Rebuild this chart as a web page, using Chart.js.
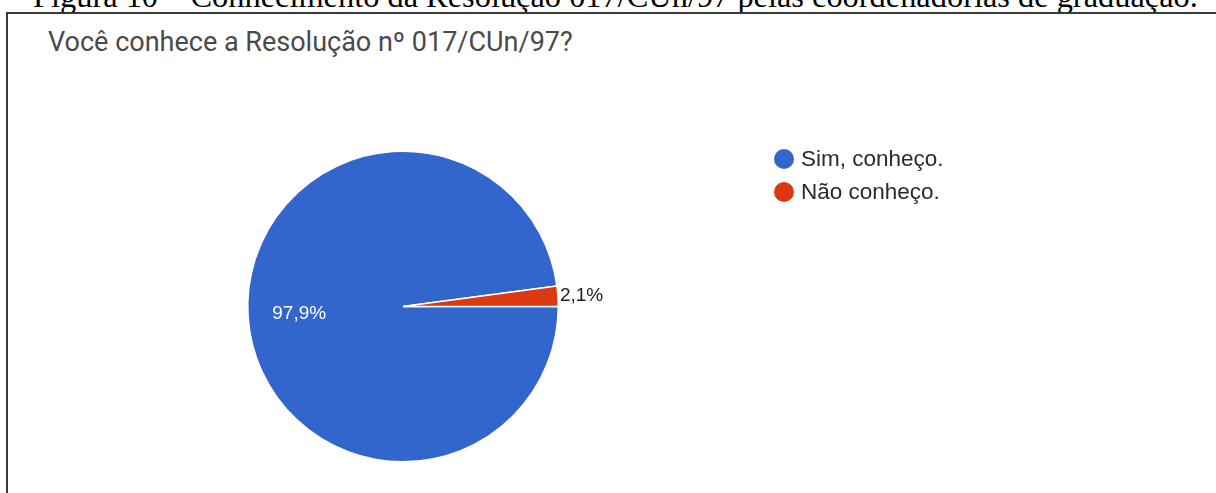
<!DOCTYPE html>
<html lang="pt-BR">
<head>
<meta charset="utf-8">
<title>Resolução nº 017/CUn/97</title>
<script src="https://cdn.jsdelivr.net/npm/chart.js@4/dist/chart.umd.min.js"></script>
<style>
  html, body { margin: 0; padding: 0; background: #fff; overflow: hidden; }
  body { width: 1216px; height: 493px; position: relative; }
  #caption {
    position: absolute; left: 33px; top: -20px;
    font-family: "Liberation Serif", "Times New Roman", serif;
    font-size: 32.4px; line-height: 32px; color: #000; white-space: nowrap;
  }
  #frame {
    position: absolute; left: 6px; top: 12px; width: 1300px; height: 600px;
    border-left: 2px solid #3a3a3a; border-top: 2px solid #3a3a3a;
    background: #fff;
  }
  #title {
    position: absolute; left: 48px; top: 26px;
    font-family: Roboto, "Open Sans", sans-serif; font-size: 27px; line-height: 32px;
    color: #4a4a4a; white-space: nowrap;
  }
  #wrap { position: absolute; left: 0; top: 0; width: 1216px; height: 493px; }
</style>
</head>
<body>
<div id="caption">Figura 10 – Conhecimento da Resolução 017/CUn/97 pelas coordenadorias de graduação.</div>
<div id="frame"></div>
<div id="title">Você conhece a Resolução nº 017/CUn/97?</div>
<div id="wrap"><canvas id="chart" width="1216" height="493"></canvas></div>
<script>
// Answers and their shares (percent)
const categories = ["Sim, conheço.", "Não conheço."];
const shares = [97.9, 2.1];
const sliceColors = ["#3366cc", "#dc3912"];

const fmtPct = v => v.toFixed(1).replace(".", ",") + "%";

// Percent labels on (or beside) each slice
const sliceLabels = {
  id: "sliceLabels",
  afterDatasetsDraw(chart) {
    const ctx = chart.ctx;
    const meta = chart.getDatasetMeta(0);
    const data = chart.data.datasets[0].data;
    const total = data.reduce((a, b) => a + b, 0);
    ctx.save();
    ctx.font = "19px Arial, 'Liberation Sans', sans-serif";
    ctx.textBaseline = "middle";
    meta.data.forEach((arc, i) => {
      const p = arc.getProps(["x", "y", "startAngle", "endAngle", "outerRadius"], true);
      const mid = (p.startAngle + p.endAngle) / 2;
      const share = data[i] / total;
      const txt = fmtPct(data[i]);
      if (share >= 0.05) {
        const r = p.outerRadius * 0.67;
        ctx.fillStyle = "#ffffff";
        ctx.textAlign = "center";
        ctx.fillText(txt, p.x + Math.cos(mid) * r, p.y + Math.sin(mid) * r);
      } else {
        const r = p.outerRadius + 2;
        ctx.fillStyle = "#222222";
        ctx.textAlign = "left";
        ctx.fillText(txt, p.x + Math.cos(mid) * r, p.y + Math.sin(mid) * r);
      }
    });
    ctx.restore();
  }
};

// Legend with round markers to the right of the pie
const sideLegend = {
  id: "sideLegend",
  afterDraw(chart) {
    const ctx = chart.ctx;
    const ds = chart.data.datasets[0];
    ctx.save();
    ctx.font = "22.5px Arial, 'Liberation Sans', sans-serif";
    ctx.textBaseline = "middle";
    ctx.textAlign = "left";
    chart.data.labels.forEach((lab, i) => {
      const y = 159 + i * 33;
      ctx.beginPath();
      ctx.arc(784, y, 10, 0, Math.PI * 2);
      ctx.fillStyle = ds.backgroundColor[i];
      ctx.fill();
      ctx.fillStyle = "#2a2a2a";
      ctx.fillText(lab, 801, y + 1);
    });
    ctx.restore();
  }
};

new Chart(document.getElementById("chart"), {
  type: "pie",
  data: {
    labels: categories,
    datasets: [{
      data: shares,
      backgroundColor: sliceColors,
      borderColor: "#ffffff",
      borderWidth: 1.5
    }]
  },
  options: {
    responsive: false,
    animation: false,
    rotation: 90,
    layout: { padding: { left: 247, right: 657, top: 150, bottom: 30 } },
    plugins: {
      legend: { display: false },
      title: { display: false },
      tooltip: { enabled: false }
    }
  },
  plugins: [sliceLabels, sideLegend]
});
</script>
</body>
</html>
